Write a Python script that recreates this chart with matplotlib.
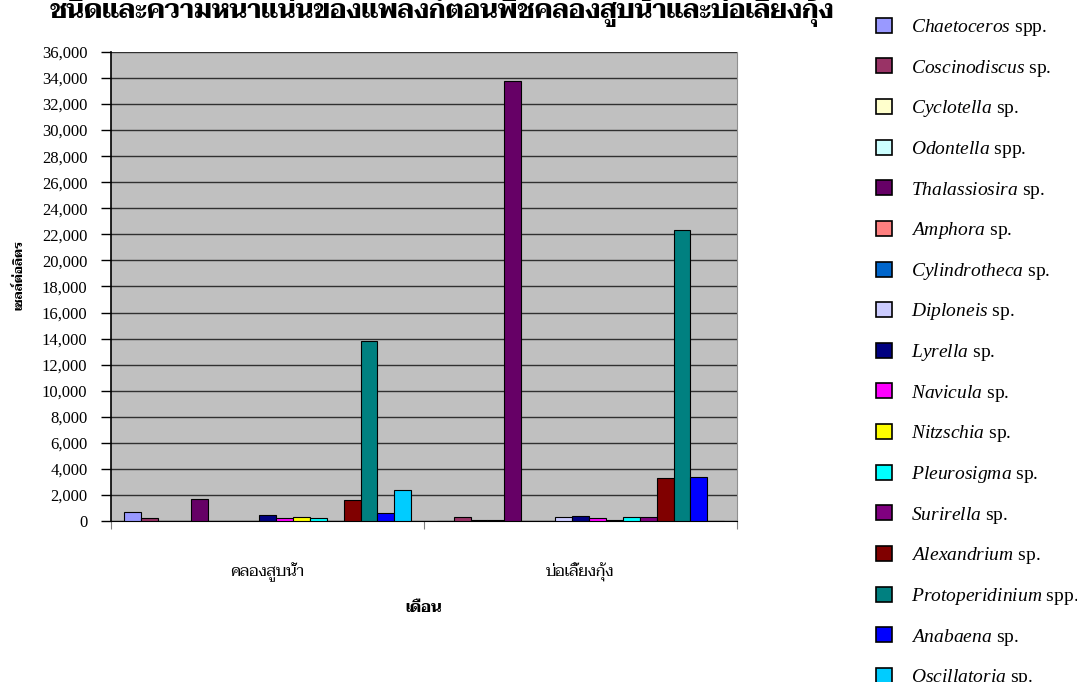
import matplotlib
matplotlib.use("Agg")
import matplotlib.pyplot as plt
import numpy as np

plt.rcParams['font.family'] = ['Liberation Serif', 'Taviraj']
plt.rcParams['mathtext.fontset'] = 'custom'
plt.rcParams['mathtext.rm'] = 'Liberation Serif'
plt.rcParams['mathtext.it'] = 'Liberation Serif:italic'

THAI = ['Taviraj']

TITLE = "ชนิดและความหนาแน่นของแพลงก์ตอนพืชคลองสูบน้ำและบ่อเลี้ยงกุ้ง"
categories = ["คลองสูบน้ำ", "บ่อเลี้ยงกุ้ง"]

genus = ["Chaetoceros", "Coscinodiscus", "Cyclotella", "Odontella", "Thalassiosira",
         "Amphora", "Cylindrotheca", "Diploneis", "Lyrella", "Navicula", "Nitzschia",
         "Pleurosigma", "Surirella", "Alexandrium", "Protoperidinium", "Anabaena",
         "Oscillatoria"]
suffix = ["spp.", "sp.", "sp.", "spp.", "sp.", "sp.", "sp.", "sp.", "sp.", "sp.", "sp.",
          "sp.", "sp.", "sp.", "spp.", "sp.", "sp."]
colors = ["#9999FF", "#993366", "#FFFFCC", "#CCFFFF", "#660066", "#FF8080", "#0066CC",
          "#CCCCFF", "#000080", "#FF00FF", "#FFFF00", "#00FFFF", "#800080", "#800000",
          "#008080", "#0000FF", "#00CCFF"]

# cells per litre: [canal, shrimp pond]
canal = [700, 200, 0, 0, 1700, 0, 0, 0, 450, 200, 300, 200, 0, 1600, 13800, 650, 2400]
pond = [0, 300, 80, 80, 33800, 0, 0, 300, 400, 200, 100, 300, 300, 3300, 22300, 3400, 0]

fig = plt.figure(figsize=(10.77, 6.82), dpi=100)
ax = fig.add_axes([0.1031, 0.2361, 0.5812, 0.6877])
ax.set_facecolor("#C0C0C0")

n = len(genus)
w = 1 / (n + 1.5)
x = np.arange(len(categories))
for i in range(n):
    ax.bar(x + (i - (n - 1) / 2) * w, [canal[i], pond[i]], width=w, color=colors[i],
           edgecolor="black", linewidth=0.8, zorder=3)

ax.set_xlim(-0.5, 1.5)
ax.set_ylim(0, 36000)
ax.set_yticks(np.arange(0, 36001, 2000))
ax.set_yticklabels([f"{v:,}" for v in range(0, 36001, 2000)], fontsize=12)
ax.yaxis.grid(True, color="#303030", linewidth=1.0, zorder=0)
ax.set_axisbelow(True)
ax.set_xticks([-0.5, 0.5, 1.5])
ax.set_xticklabels([])
ax.set_xticks(x, minor=True)
ax.set_xticklabels(categories, minor=True, family=THAI, fontsize=11.5)
ax.tick_params(axis="x", which="minor", length=0, pad=30)
ax.tick_params(axis="x", which="major", length=6, color="#808080")
ax.tick_params(axis="y", length=7, width=1, pad=10)
ax.spines["top"].set_visible(False)
ax.spines["right"].set_color("#909090")
ax.spines["bottom"].set_color("black")
ax.spines["left"].set_linewidth(1.2)

ax.set_ylabel("เซลล์ต่อลิตร", family=THAI, fontweight="bold", fontsize=9)
ax.yaxis.set_label_coords(-0.136, 0.5245)
ax.set_xlabel("เดือน", family=THAI, fontweight="bold", fontsize=11, labelpad=14)

fig.text(0.41, 1 - 18 / 682, TITLE, family=THAI, fontweight="bold", fontsize=18.4,
         ha="center", va="baseline")

handles = [plt.Rectangle((0, 0), 1, 1, facecolor=c, edgecolor="black", linewidth=1.2) for c in colors]
labels = [rf"$\mathit{{{g}}}$ {s}" for g, s in zip(genus, suffix)]
fig.legend(handles, labels, loc="upper left", bbox_to_anchor=(876 / 1077, 1 - 17 / 682),
           frameon=False, fontsize=14, handlelength=0.81, handleheight=0.81,
           handletextpad=1.0, labelspacing=1.01, borderpad=0, borderaxespad=0)

fig.savefig("out.png")
